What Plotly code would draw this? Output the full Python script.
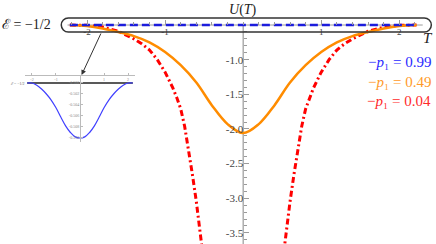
import plotly.graph_objects as go

# ---------------- data ----------------
blue_T = [-2.22, -1.5, -1.0, -0.5, 0.0, 0.5, 1.0, 1.5, 2.22]
blue_U = [-0.5, -0.5, -0.5, -0.5, -0.5, -0.5, -0.5, -0.5, -0.5]

orange_T = [-2.22, -2.0, -1.8, -1.6, -1.4, -1.2, -1.0, -0.8, -0.6, -0.4, -0.2, 0.0,
            0.2, 0.4, 0.6, 0.8, 1.0, 1.2, 1.4, 1.6, 1.8, 2.0, 2.22]
orange_U = [-0.50, -0.515, -0.55, -0.60, -0.66, -0.75, -0.89, -1.08, -1.33, -1.66, -1.93, -2.06,
            -1.93, -1.66, -1.33, -1.08, -0.89, -0.75, -0.66, -0.60, -0.55, -0.515, -0.50]

red_T = [-2.22, -2.0, -1.8, -1.6, -1.4, -1.3, -1.2, -1.1, -1.0, -0.9, -0.85, -0.8, -0.75,
         -0.7, -0.65, -0.6, -0.55, -0.52, None,
         0.52, 0.55, 0.6, 0.65, 0.7, 0.75, 0.8, 0.85, 0.9, 1.0, 1.1, 1.2, 1.3, 1.4,
         1.6, 1.8, 2.0, 2.22]
red_U = [-0.50, -0.505, -0.53, -0.59, -0.70, -0.77, -0.86, -1.00, -1.18, -1.41, -1.55, -1.71, -1.96,
         -2.28, -2.66, -3.05, -3.48, -3.78, None,
         -3.78, -3.48, -3.05, -2.66, -2.28, -1.96, -1.71, -1.55, -1.41, -1.18, -1.00, -0.86, -0.77, -0.70,
         -0.59, -0.53, -0.505, -0.50]

inset_T = [-2.2, -2.0, -1.8, -1.6, -1.4, -1.2, -1.0, -0.8, -0.6, -0.4, -0.2, 0.0,
           0.2, 0.4, 0.6, 0.8, 1.0, 1.2, 1.4, 1.6, 1.8, 2.0, 2.2]
inset_U = [-0.5000, -0.5000, -0.5004, -0.5011, -0.5020, -0.5031, -0.5045, -0.5062, -0.5078, -0.5090, -0.5098, -0.5100,
           -0.5098, -0.5090, -0.5078, -0.5062, -0.5045, -0.5031, -0.5020, -0.5011, -0.5004, -0.5000, -0.5000]
inset_E_T = [-2.2, 2.2]
inset_E_U = [-0.5, -0.5]

legend_labels = ["0.99", "0.49", "0.04"]
x_tickvals = [-2, -1, 1, 2]
x_ticktext = ["-2", "-1", "1", "2"]
y_tickvals = [-1.0, -1.5, -2.0, -2.5, -3.0, -3.5]
y_ticktext = ["-1.0", "-1.5", "-2.0", "-2.5", "-3.0", "-3.5"]
inset_y_tickvals = [-0.500, -0.502, -0.504, -0.506, -0.508, -0.510]
inset_y_ticktext = ["-0.500", "-0.502", "-0.504", "-0.506", "-0.508", "-0.510"]

# ---------------- layout constants ----------------
W, H = 436, 244
XR = [-3.115, 2.47]
YR = [-3.66, -0.139]
SERIF = "Liberation Serif, DejaVu Serif, serif"
BLUE, ORANGE, RED = "#1c1cdc", "#ff8c00", "#ff0000"
AXC = "#9a9a9a"

fig = go.Figure()
fig.add_trace(go.Scatter(x=red_T, y=red_U, mode="lines",
                         line=dict(color=RED, width=3, dash="6px,3px,2px,3px"),
                         showlegend=False, connectgaps=False))
fig.add_trace(go.Scatter(x=orange_T, y=orange_U, mode="lines", line_shape="spline",
                         line=dict(color=ORANGE, width=2.5), showlegend=False))
fig.add_trace(go.Scatter(x=blue_T, y=blue_U, mode="lines",
                         line=dict(color=BLUE, width=2.5, dash="8px,4px"), showlegend=False))

# inset
fig.add_trace(go.Scatter(x=inset_E_T, y=inset_E_U, mode="lines", xaxis="x2", yaxis="y2",
                         line=dict(color="#222222", width=1.5), showlegend=False))
fig.add_trace(go.Scatter(x=inset_T, y=inset_U, mode="lines", line_shape="spline", xaxis="x2", yaxis="y2",
                         line=dict(color="#4040ff", width=1.2), showlegend=False))

xpos0 = (0 - XR[0]) / (XR[1] - XR[0])
ypos_axis = (-0.5 - YR[0]) / (YR[1] - YR[0])

x_minor = [round(-2.2 + 0.2 * i, 2) for i in range(23)]
y_minor = [round(-0.6 - 0.1 * i, 2) for i in range(31)]

ins_xd = [25 / W, 135 / W]
ins_yd = [1 - 142 / H, 1 - 75 / H]
ins_xr = [-2.29, 2.29]
ins_yr = [-0.51073, -0.49855]
ins_xpos0 = ins_xd[0] + (0 - ins_xr[0]) / (ins_xr[1] - ins_xr[0]) * (ins_xd[1] - ins_xd[0])

fig.update_layout(
    width=W, height=H, margin=dict(l=0, r=0, t=0, b=0),
    paper_bgcolor="white", plot_bgcolor="white", hovermode=False,
    xaxis=dict(range=XR, anchor="free", position=ypos_axis, showgrid=False, zeroline=False,
               showline=False, ticks="inside", ticklen=5, tickcolor=AXC, tickwidth=1,
               tickvals=x_tickvals, ticktext=x_ticktext,
               tickfont=dict(family=SERIF, size=9, color="#444444"),
               minor=dict(tickvals=x_minor, ticks="inside", ticklen=3, tickcolor=AXC, showgrid=False)),
    yaxis=dict(range=YR, anchor="free", position=xpos0, showgrid=False, zeroline=False,
               showline=False, ticks="inside", ticklen=5, tickcolor=AXC, tickwidth=1,
               tickvals=y_tickvals, ticktext=y_ticktext,
               tickfont=dict(family=SERIF, size=11, color="#444444"),
               minor=dict(tickvals=y_minor, ticks="inside", ticklen=3, tickcolor=AXC, showgrid=False)),
    xaxis2=dict(domain=ins_xd, range=ins_xr, anchor="free", position=ins_yd[1], showgrid=False,
                zeroline=False, showline=True, linecolor="#bbbbbb", linewidth=1,
                ticks="inside", ticklen=2, tickcolor="#bbbbbb",
                tickvals=x_tickvals, ticktext=x_ticktext,
                tickfont=dict(family=SERIF, size=4, color="#888888")),
    yaxis2=dict(domain=ins_yd, range=ins_yr, anchor="free", position=ins_xpos0, showgrid=False,
                zeroline=False, showline=True, linecolor="#bbbbbb", linewidth=1,
                ticks="inside", ticklen=2, tickcolor="#bbbbbb",
                tickvals=inset_y_tickvals, ticktext=inset_y_ticktext,
                tickfont=dict(family=SERIF, size=4, color="#888888")),
)

# axis lines
fig.add_shape(type="line", xref="x", yref="y", x0=0, x1=0, y0=-0.5, y1=YR[0],
              line=dict(color=AXC, width=1.2), layer="below")
fig.add_shape(type="line", xref="x", yref="y", x0=-2.25, x1=2.3, y0=-0.5, y1=-0.5,
              line=dict(color=AXC, width=1), layer="below")

# rounded box
L, R, yt, yb = -2.33, 2.41, -0.399, -0.601
rx, ry = 0.09, (yt - yb) / 2
ym = (yt + yb) / 2
k = 0.5523
path = (f"M {L+rx},{yt} L {R-rx},{yt} "
        f"C {R-rx+k*rx},{yt} {R},{ym+k*ry} {R},{ym} "
        f"C {R},{ym-k*ry} {R-rx+k*rx},{yb} {R-rx},{yb} "
        f"L {L+rx},{yb} "
        f"C {L+rx-k*rx},{yb} {L},{ym-k*ry} {L},{ym} "
        f"C {L},{ym+k*ry} {L+rx-k*rx},{yt} {L+rx},{yt} Z")
fig.add_shape(type="path", xref="x", yref="y", path=path, line=dict(color="#333333", width=1.5))

# texts
def txt(x, y, text, size, color="#222222", xanchor="center"):
    fig.add_annotation(xref="paper", yref="paper", x=x / W, y=1 - y / H, text=text,
                       xanchor=xanchor, yanchor="middle", showarrow=False,
                       font=dict(family=SERIF, size=size, color=color))

txt(243, 10, "<i>U</i>(<i>T</i>)", 14)
txt(428, 38, "<i>T</i>", 15)
txt(0, 24, "ℰ = −1/2", 14, xanchor="left")
txt(27, 83, "ℰ = −1/2", 4, color="#555555", xanchor="right")

# arrow
fig.add_annotation(xref="x", yref="y", x=-2.07, y=-0.5 - 50 / 69.3, ax=20, ay=-43,
                   text="", showarrow=True, arrowhead=2, arrowsize=1, arrowwidth=1, arrowcolor="#333333")

# legend texts
leg_colors = ["#2a2aff", "#ff9a2a", "#ff2a2a"]
leg_y = [62, 82, 101]
for lab, c, yy in zip(legend_labels, leg_colors, leg_y):
    txt(433, yy, f"−<i>p</i>₁ = {lab}", 15, color=c, xanchor="right")

fig.write_html("out.html", config={"displayModeBar": False},
               post_script="document.body.style.margin='0';")
